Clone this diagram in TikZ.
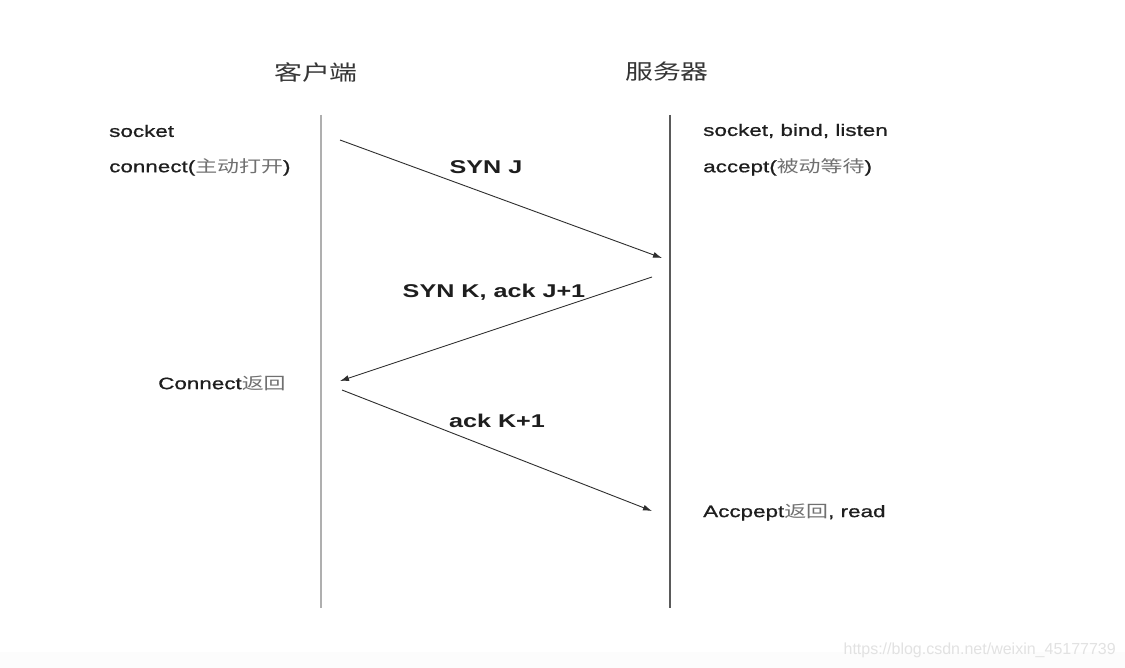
\documentclass[tikz,border=0pt]{standalone}
\usepackage{fontspec}
\setmainfont{Liberation Sans}[FakeStretch=1.36]
\newfontfamily\lblfont{Liberation Sans}[FakeStretch=1.36,FakeBold=0.9]
\newfontfamily\cjk{Noto Sans CJK SC}[FakeStretch=1.33]
\newfontfamily\wmfont{Liberation Sans}
\usetikzlibrary{arrows.meta}
\definecolor{lineA}{HTML}{AFAFAF}
\definecolor{lineB}{HTML}{5A5A5A}
\definecolor{arrowc}{HTML}{2E2E2E}
\definecolor{txt}{HTML}{1E1E1E}
\definecolor{cjkgray}{HTML}{707070}
\definecolor{wmc}{HTML}{E2E2E2}
\tikzset{
  lbl/.style={anchor=west, inner sep=0pt, text=txt, font=\fontsize{16.5}{20}\selectfont\lblfont},
  msg/.style={inner sep=0pt, text=txt, font=\fontsize{18.5}{22}\selectfont\bfseries},
  head/.style={inner sep=0pt, text=txt!90, font=\fontsize{21}{24}\selectfont\cjk},
  msgarrow/.style={draw=arrowc, line width=0.9pt, -{Latex[length=9pt,width=6pt]}},
}
\newcommand{\zh}[1]{{\cjk\color{cjkgray}#1}}
\begin{document}
\begin{tikzpicture}[x=1pt,y=-1pt]
\useasboundingbox[fill=white] (0,0) rectangle (1125,668);
\fill[white!99!black] (0,652) rectangle (1125,668);
% headers
\node[head] (client) at (316,72) {客户端};
\node[head] (server) at (667,72) {服务器};
% lifelines
\coordinate (ltop) at (321,115);
\coordinate (lbot) at (321,608);
\coordinate (rtop) at (670,115);
\coordinate (rbot) at (670,608);
\draw[lineA, line width=2pt] (ltop) -- (lbot);
\draw[lineB, line width=2pt] (rtop) -- (rbot);
% client labels
\node[lbl] (csock) at (109,131) {socket};
\node[lbl] (cconn) at (109,167) {connect(\zh{主动打开})};
\node[lbl] (cret) at (158,383) {Connect\zh{返回}};
% server labels
\node[lbl] (ssock) at (703,131) {socket, bind, listen};
\node[lbl] (sacc) at (703,167) {accept(\zh{被动等待})};
\node[lbl] (sret) at (703,512) {Accpept\zh{返回}, read};
% messages
\coordinate (a1s) at (340,140);
\coordinate (a1e) at (662,258);
\coordinate (a2s) at (652,277);
\coordinate (a2e) at (340,381);
\coordinate (a3s) at (342,390);
\coordinate (a3e) at (652,511);
\draw[msgarrow] (a1s) -- (a1e);
\draw[msgarrow] (a2s) -- (a2e);
\draw[msgarrow] (a3s) -- (a3e);
\node[msg] (m1) at (486,167) {SYN J};
\node[msg] (m2) at (494,292) {SYN K, ack J+1};
\node[msg] (m3) at (497,421) {ack K+1};
% watermark
\node[inner sep=0pt, anchor=east, text=wmc, font=\fontsize{16}{18}\selectfont\wmfont] (wm) at (1116,650) {https://blog.csdn.net/weixin\_45177739};
\end{tikzpicture}
\end{document}
